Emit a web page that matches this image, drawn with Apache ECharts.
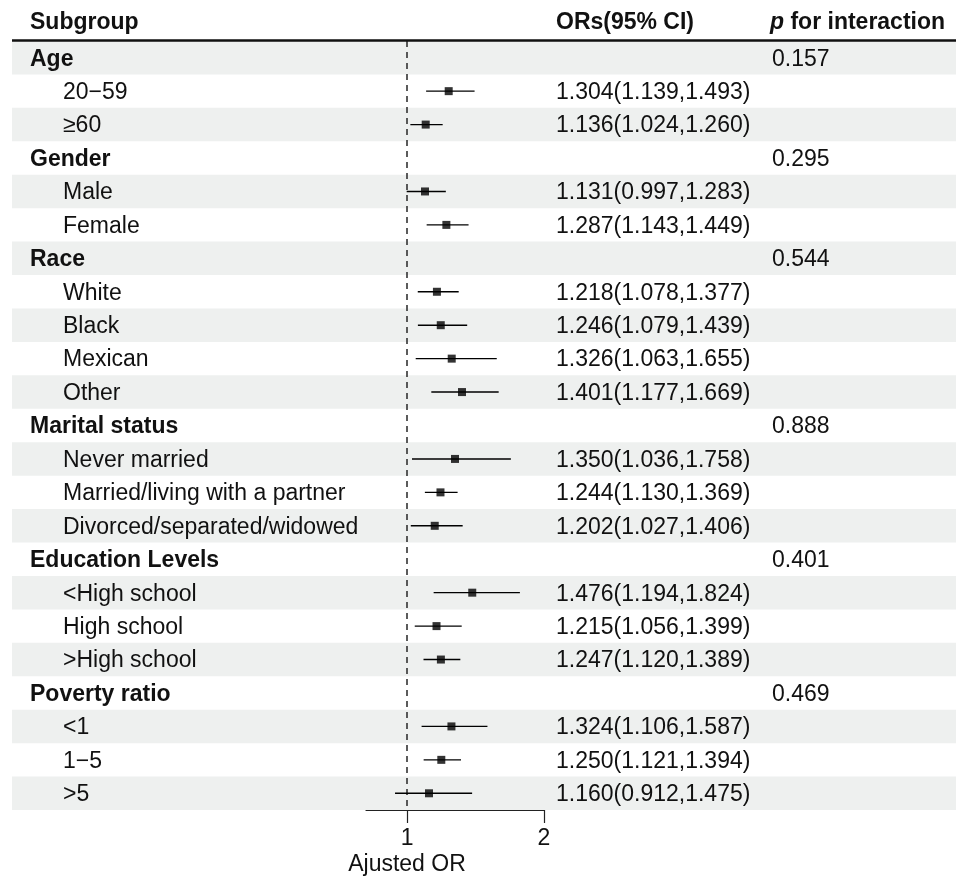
<!DOCTYPE html>
<html>
<head>
<meta charset="utf-8">
<script src="https://cdn.jsdelivr.net/npm/echarts@6/dist/echarts.min.js"></script>
<style>
  html, body { margin: 0; padding: 0; background: #fff; }
  #chart { width: 956px; height: 879px; }
</style>
</head>
<body>
<div id="chart"></div>
<script>
// Subgroup rows, top to bottom
const subgroups = [
  'Age', '20\u221259', '\u226560',
  'Gender', 'Male', 'Female',
  'Race', 'White', 'Black', 'Mexican', 'Other',
  'Marital status', 'Never married', 'Married/living with a partner', 'Divorced/separated/widowed',
  'Education Levels', '<High school', 'High school', '>High school',
  'Poverty ratio', '<1', '1\u22125', '>5'
];
const isGroup = [1,0,0, 1,0,0, 1,0,0,0,0, 1,0,0,0, 1,0,0,0, 1,0,0,0];

// Adjusted odds ratios with 95% confidence limits
const orValues = [null,1.304,1.136, null,1.131,1.287, null,1.218,1.246,1.326,1.401, null,1.350,1.244,1.202, null,1.476,1.215,1.247, null,1.324,1.250,1.160];
const ciLower  = [null,1.139,1.024, null,0.997,1.143, null,1.078,1.079,1.063,1.177, null,1.036,1.130,1.027, null,1.194,1.056,1.120, null,1.106,1.121,0.912];
const ciUpper  = [null,1.493,1.260, null,1.283,1.449, null,1.377,1.439,1.655,1.669, null,1.758,1.369,1.406, null,1.824,1.399,1.389, null,1.587,1.394,1.475];

// p for interaction, shown on the group rows
const pInteraction = ['0.157','','', '0.295','','', '0.544','','','','', '0.888','','','', '0.401','','','', '0.469','','',''];

// Axis settings
const xMin = 0.7, xMax = 2;
const xTicks = [1, 2];
const refValue = 1;

const FONT = '"Liberation Sans", Arial, Helvetica, sans-serif';
const FS = 23;
const TXT = '#111';
const BAND = '#eef0ef';
const TEXT_DY = 1.5; // baseline nudge for table text

const chart = echarts.init(document.getElementById('chart'), null, { renderer: 'canvas' });

const rowIdx = subgroups.map((_, i) => i);
const fmt = v => v.toFixed(3);

const ciData = [];
const pointData = [];
rowIdx.forEach(i => {
  if (orValues[i] != null) {
    ciData.push([ciLower[i], ciUpper[i], i]);
    pointData.push([orValues[i], i]);
  }
});

const textData = rowIdx.map(i => [
  i,
  subgroups[i],
  isGroup[i],
  orValues[i] != null ? fmt(orValues[i]) + '(' + fmt(ciLower[i]) + ',' + fmt(ciUpper[i]) + ')' : '',
  pInteraction[i]
]);

const option = {
  animation: false,
  backgroundColor: '#fff',
  textStyle: { fontFamily: FONT },
  grid: { left: 366, right: 412, top: 41, bottom: 69, containLabel: false },
  xAxis: {
    type: 'value',
    min: xMin,
    max: xMax,
    splitLine: { show: false },
    axisLine: { show: true, lineStyle: { color: '#222', width: 1.2 } },
    axisTick: { show: true, customValues: xTicks, length: 13, lineStyle: { color: '#222', width: 1.2 } },
    axisLabel: { customValues: xTicks, color: TXT, fontSize: FS, fontFamily: FONT, margin: 17 }
  },
  yAxis: {
    type: 'category',
    data: subgroups,
    inverse: true,
    show: false
  },
  graphic: [
    { type: 'text', x: 30, y: 23, style: { text: 'Subgroup', font: 'bold ' + FS + 'px ' + FONT, fill: TXT, verticalAlign: 'middle' } },
    { type: 'text', x: 556, y: 23, style: { text: 'ORs(95% CI)', font: 'bold ' + FS + 'px ' + FONT, fill: TXT, verticalAlign: 'middle' } },
    { type: 'text', x: 770, y: 23, style: {
        text: '{i|p} for interaction',
        font: 'bold ' + FS + 'px ' + FONT, fill: TXT, verticalAlign: 'middle',
        rich: { i: { fontStyle: 'italic', fontWeight: 'bold', fontSize: FS, fontFamily: FONT, fill: TXT } }
      } },
    { type: 'line', shape: { x1: 12, y1: 40.5, x2: 956, y2: 40.5 }, style: { stroke: '#111', lineWidth: 2.5 }, z: 10 },
    { type: 'text', x: 407, y: 865, style: { text: 'Ajusted OR', font: FS + 'px ' + FONT, fill: TXT, align: 'center', verticalAlign: 'middle' } }
  ],
  series: [
    {
      // alternating row shading across the full table width
      type: 'custom',
      clip: false,
      silent: true,
      z: 0,
      data: rowIdx.map(i => [i]),
      renderItem: (params, api) => {
        const i = api.value(0);
        if (i % 2 !== 0) return null;
        const c = api.coord([xMin, i]);
        const h = api.size([0, 1])[1];
        return { type: 'rect', shape: { x: 12, y: c[1] - h / 2, width: 944, height: h }, style: { fill: BAND } };
      }
    },
    {
      // table text columns
      type: 'custom',
      clip: false,
      silent: true,
      z: 5,
      data: textData,
      renderItem: (params, api) => {
        const d = textData[params.dataIndex];
        const y = api.coord([xMin, d[0]])[1] + TEXT_DY;
        const children = [
          { type: 'text', x: d[2] ? 30 : 63, y: y, style: { text: d[1], font: (d[2] ? 'bold ' : '') + FS + 'px ' + FONT, fill: TXT, verticalAlign: 'middle' } }
        ];
        if (d[3]) children.push({ type: 'text', x: 556, y: y, style: { text: d[3], font: FS + 'px ' + FONT, fill: TXT, verticalAlign: 'middle' } });
        if (d[4]) children.push({ type: 'text', x: 772, y: y, style: { text: d[4], font: FS + 'px ' + FONT, fill: TXT, verticalAlign: 'middle' } });
        return { type: 'group', children: children };
      }
    },
    {
      // confidence intervals
      type: 'custom',
      clip: false,
      z: 6,
      data: ciData,
      renderItem: (params, api) => {
        const a = api.coord([api.value(0), api.value(2)]);
        const b = api.coord([api.value(1), api.value(2)]);
        return { type: 'line', shape: { x1: a[0], y1: a[1], x2: b[0], y2: b[1] }, style: { stroke: '#000', lineWidth: 1.4 } };
      }
    },
    {
      // point estimates
      type: 'scatter',
      z: 7,
      symbol: 'rect',
      symbolSize: 8,
      itemStyle: { color: '#000' },
      data: pointData,
      markLine: {
        silent: true,
        symbol: 'none',
        label: { show: false },
        lineStyle: { type: [6, 5], color: '#333', width: 1.6 },
        data: [{ xAxis: refValue }]
      }
    }
  ]
};

chart.setOption(option);
</script>
</body>
</html>
